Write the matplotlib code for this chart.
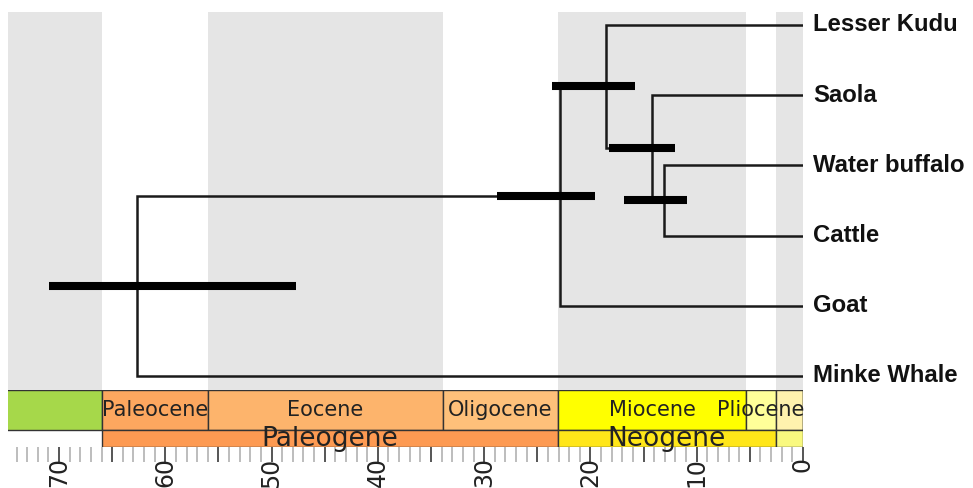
#!/usr/bin/env python3
import matplotlib
matplotlib.use('Agg')
import matplotlib.pyplot as plt
from matplotlib.ticker import MultipleLocator, FuncFormatter
from matplotlib.patches import Rectangle

# tips, top to bottom
tips = ["Lesser Kudu", "Saola", "Water buffalo", "Cattle", "Goat", "Minke Whale"]

# internal nodes: children, age (Ma), 95% interval (Ma)
node_names = ["bos_bubalus", "saola_node", "bovinae", "bovidae", "root"]
node_children = [("Water buffalo", "Cattle"), ("Saola", "bos_bubalus"),
                 ("Lesser Kudu", "saola_node"), ("bovinae", "Goat"),
                 ("bovidae", "Minke Whale")]
node_age = [13.1, 14.2, 18.5, 22.9, 62.7]
node_low = [10.9, 12.0, 15.8, 19.6, 47.7]
node_high = [16.8, 18.3, 23.6, 28.8, 70.9]

# geologic time scale
epoch_names = ["Late Cretaceous", "Paleocene", "Eocene", "Oligocene", "Miocene",
               "Pliocene", "Pleistocene", "Holocene"]
epoch_start = [100.5, 66.0, 56.0, 33.9, 23.03, 5.333, 2.58, 0.0117]
epoch_end = [66.0, 56.0, 33.9, 23.03, 5.333, 2.58, 0.0117, 0.0]
epoch_colors = ["#a6d84a", "#fda75f", "#fdb46c", "#fec07a", "#ffff00",
                "#ffff99", "#fff2ae", "#fef2e0"]
epoch_shown = [False, True, True, True, True, True, False, False]
period_names = ["Paleogene", "Neogene", "Quaternary"]
period_start = [66.0, 23.03, 2.58]
period_end = [23.03, 2.58, 0.0]
period_colors = ["#fd9a52", "#ffe619", "#f9f97f"]
period_shown = [True, True, False]

xmax = 74.8

fig = plt.figure(figsize=(9.73, 4.88), dpi=100)
ax = fig.add_axes([8/973, 1-390/488, 795/973, 378/488])
ts = fig.add_axes([8/973, 1-447/488, 795/973, 57/488], sharex=ax)

# gray bands for alternating epochs
for i in [0, 2, 4, 6]:
    end = epoch_end[i] if i != 6 else 0.0
    ax.axvspan(epoch_start[i], end, color='#e5e5e5', lw=0, zorder=0)

# tree layout
ypos = {t: i for i, t in enumerate(tips)}
age = {t: 0.0 for t in tips}
for n, ch, a in zip(node_names, node_children, node_age):
    ypos[n] = (ypos[ch[0]] + ypos[ch[1]]) / 2
    age[n] = a

line_kw = dict(color='#1a1a1a', lw=1.8, solid_joinstyle='miter', zorder=2)
for n, ch in zip(node_names, node_children):
    a = age[n]
    ax.plot([age[ch[0]], a, a, age[ch[1]]],
            [ypos[ch[0]], ypos[ch[0]], ypos[ch[1]], ypos[ch[1]]], **line_kw)

for n, lo, hi in zip(node_names, node_low, node_high):
    ax.plot([hi, lo], [ypos[n], ypos[n]], color='black', lw=5.8,
            solid_capstyle='butt', zorder=3)

for t in tips:
    ax.annotate(t, (0, ypos[t]), xytext=(7.5, 0), textcoords='offset points',
                va='center', ha='left', fontsize=17.2, fontweight='bold',
                family='Liberation Sans', color='#111111',
                annotation_clip=False)

ax.set_xlim(xmax, 0)
ax.set_ylim(5.2, -0.185)
ax.axis('off')

# time scale boxes
for s, e, c, name, show in zip(epoch_start, epoch_end, epoch_colors, epoch_names, epoch_shown):
    ts.add_patch(Rectangle((e, 0.298), s - e, 0.702, facecolor=c,
                           edgecolor='#333333', lw=1.0, zorder=1))
    if show:
        ts.text((s + e) / 2, 0.649, name, ha='center', va='center',
                fontsize=15, color='#222222', zorder=3, clip_on=False)
for s, e, c, name, show in zip(period_start, period_end, period_colors, period_names, period_shown):
    ts.add_patch(Rectangle((e, 0.0), s - e, 0.298, facecolor=c,
                           edgecolor='#333333', lw=1.0, zorder=1))
    if show:
        ts.text((s + e) / 2, 0.149, name, ha='center', va='center',
                fontsize=19, color='#222222', zorder=3, clip_on=False)

ts.set_ylim(0, 1)
ts.set_xlim(xmax, 0)
for sp in ts.spines.values():
    sp.set_visible(False)
ts.set_yticks([])
ts.xaxis.set_major_locator(MultipleLocator(5))
ts.xaxis.set_minor_locator(MultipleLocator(1))
ts.xaxis.set_major_formatter(FuncFormatter(lambda v, p: '%d' % v if round(v) % 10 == 0 else ''))
ts.tick_params(axis='x', which='major', length=11, width=1.4, color='#555555',
               labelsize=17, labelcolor='#222222', labelrotation=90, pad=-3.5)
ts.tick_params(axis='x', which='minor', length=11, width=1.4, color='#bdbdbd')
ts.patch.set_alpha(0)

fig.savefig('out.png', dpi=100)
